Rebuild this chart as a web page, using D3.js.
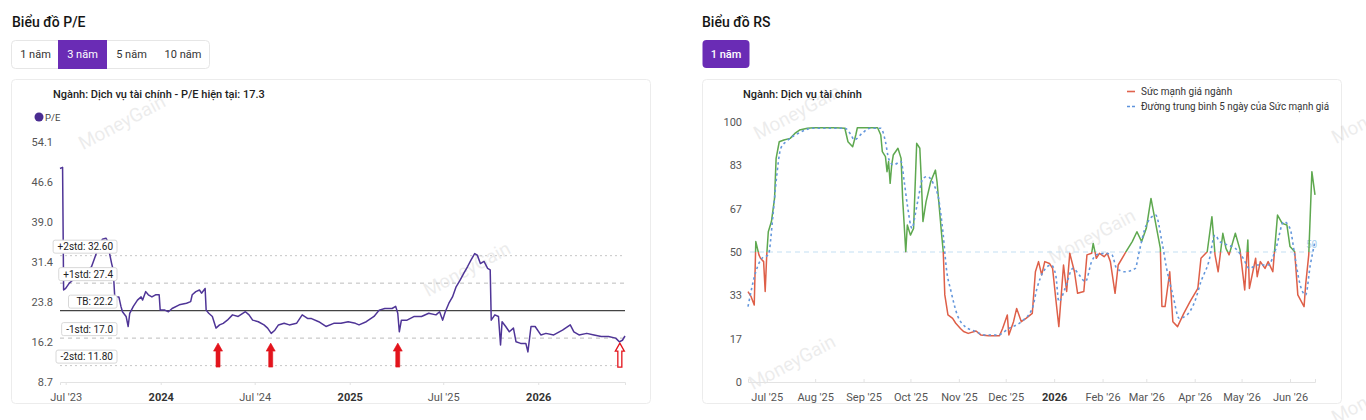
<!DOCTYPE html>
<html>
<head>
<meta charset="utf-8">
<script src="https://cdn.jsdelivr.net/npm/d3@7"></script>
<style>
  body { margin: 0; background: #fff; font-family: Roboto, "Noto Sans", sans-serif; }
  svg { display: block; }
</style>
</head>
<body>
<svg id="chart" width="1366" height="420"></svg>
<script>
// ---- P/E data (3 years) ----
var peDates = ["2023-06-20","2023-06-25","2023-06-27","2023-07-01","2023-07-08","2023-07-15","2023-07-22","2023-08-02","2023-08-13","2023-08-20",
  "2023-08-27","2023-09-03","2023-09-10","2023-09-17","2023-09-21","2023-09-24","2023-09-28","2023-10-01","2023-10-04","2023-10-12",
  "2023-10-16","2023-10-19","2023-10-26","2023-10-30","2023-11-02","2023-11-09","2023-11-17","2023-11-24","2023-11-27","2023-12-03",
  "2023-12-08","2023-12-15","2023-12-22","2023-12-29","2023-12-31","2024-01-09","2024-01-16","2024-01-23","2024-02-06","2024-02-20",
  "2024-02-28","2024-03-02","2024-03-09","2024-03-16","2024-03-20","2024-03-27","2024-03-29","2024-04-03","2024-04-10","2024-04-17",
  "2024-04-24","2024-05-01","2024-05-09","2024-05-19","2024-05-30","2024-06-13","2024-06-20","2024-06-27","2024-07-08","2024-07-19",
  "2024-07-26","2024-08-02","2024-08-09","2024-08-16","2024-08-27","2024-09-06","2024-09-20","2024-10-01","2024-10-12","2024-10-19",
  "2024-11-02","2024-11-16","2024-12-01","2024-12-15","2024-12-29","2025-01-12","2025-01-19","2025-02-02","2025-02-17","2025-02-27",
  "2025-03-10","2025-03-24","2025-03-31","2025-04-04","2025-04-07","2025-04-11","2025-04-22","2025-05-06","2025-05-20","2025-06-03",
  "2025-06-17","2025-06-24","2025-06-30","2025-07-05","2025-07-12","2025-07-19","2025-07-26","2025-08-03","2025-08-10","2025-08-17",
  "2025-08-24","2025-08-31","2025-09-05","2025-09-11","2025-09-18","2025-09-25","2025-09-30","2025-10-02","2025-10-09","2025-10-16",
  "2025-10-20","2025-10-23","2025-10-30","2025-11-06","2025-11-14","2025-11-19","2025-11-28","2025-12-08","2025-12-12","2025-12-18",
  "2025-12-26","2026-01-06","2026-01-16","2026-01-31","2026-02-17","2026-03-04","2026-03-11","2026-03-21","2026-04-05","2026-04-19",
  "2026-05-03","2026-05-17","2026-05-31","2026-06-07","2026-06-13","2026-06-18"];
var peValues = [49.1,49.3,26.1,26.4,27.4,28.0,28.3,29.3,29.9,30.5,
  32.4,34.3,35.7,35.9,35.2,33.0,31.1,29.9,24.8,24.8,
  23.0,22.0,21.1,19.2,21.7,23.0,24.2,24.8,24.2,25.8,
  25.2,24.8,25.2,25.2,22.3,22.3,22.0,22.6,23.3,23.6,
  23.9,25.2,25.8,26.1,25.5,26.4,22.3,21.7,21.1,18.9,
  19.5,19.8,20.4,21.4,21.1,22.0,21.4,20.4,20.1,19.5,
  18.9,17.9,18.5,19.5,19.8,19.5,19.8,21.4,20.7,20.7,
  20.1,19.2,19.8,19.8,20.1,19.8,19.5,20.1,21.1,22.3,
  22.6,22.6,23.0,21.7,18.2,20.4,20.4,21.1,21.1,21.7,
  21.4,22.0,20.4,22.0,23.6,24.8,26.7,28.0,29.3,30.5,
  31.8,33.0,32.7,31.1,31.5,30.2,29.9,20.4,21.4,21.1,
  15.7,20.1,19.2,18.2,18.9,16.3,16.0,16.0,14.4,19.2,
  19.2,17.6,17.9,17.6,18.5,19.5,18.2,17.6,17.9,17.6,
  17.3,17.3,17.0,16.3,16.6,17.4];
var peTicks = [8.7, 16.2, 23.8, 31.4, 39.0, 46.6, 54.1];
var peXTicks = ["2023-07-01","2024-01-01","2024-07-01","2025-01-01","2025-07-01","2026-01-01"];
var peXLabels = ["Jul '23","2024","Jul '24","2025","Jul '25","2026"];
var stdValues = [32.60, 27.4, 22.2, 17.0, 11.80];
var stdLabels = ["+2std: 32.60","+1std: 27.4","TB: 22.2","-1std: 17.0","-2std: 11.80"];
var stdKinds  = ["dot","dash","solid","dash","dot"];
var arrowDates = ["2024-04-21","2024-08-01","2025-04-04","2026-06-08"];
var arrowHollow = [false, false, false, true];

// ---- RS data (1 year) ----
var rsDates = ["2025-06-19","2025-06-21","2025-06-23","2025-06-24","2025-06-26","2025-06-27","2025-06-29","2025-06-30","2025-07-01","2025-07-02",
  "2025-07-04","2025-07-06","2025-07-07","2025-07-09","2025-07-12","2025-07-16","2025-07-19","2025-07-22","2025-07-27","2025-07-31",
  "2025-08-07","2025-08-14","2025-08-20","2025-08-22","2025-08-25","2025-08-27","2025-08-28","2025-09-03","2025-09-10","2025-09-12",
  "2025-09-13","2025-09-15","2025-09-16","2025-09-17","2025-09-18","2025-09-19","2025-09-20","2025-09-23","2025-09-25","2025-09-26",
  "2025-09-27","2025-09-28","2025-09-29","2025-10-01","2025-10-03","2025-10-05","2025-10-07","2025-10-08","2025-10-09","2025-10-11",
  "2025-10-14","2025-10-17","2025-10-18","2025-10-21","2025-10-22","2025-10-23","2025-10-25","2025-10-28","2025-10-30","2025-11-02",
  "2025-11-04","2025-11-07","2025-11-12","2025-11-15","2025-11-20","2025-11-27","2025-11-29","2025-12-02","2025-12-03","2025-12-06",
  "2025-12-08","2025-12-11","2025-12-14","2025-12-18","2025-12-20","2025-12-22","2025-12-24","2025-12-26","2025-12-29","2025-12-31",
  "2026-01-02","2026-01-04","2026-01-07","2026-01-09","2026-01-11","2026-01-14","2026-01-16","2026-01-20","2026-01-22","2026-01-25",
  "2026-01-26","2026-01-28","2026-01-30","2026-02-02","2026-02-04","2026-02-06","2026-02-09","2026-02-11","2026-02-16","2026-02-20",
  "2026-02-23","2026-02-26","2026-03-01","2026-03-04","2026-03-06","2026-03-10","2026-03-11","2026-03-13","2026-03-16","2026-03-18",
  "2026-03-21","2026-03-25","2026-03-29","2026-04-03","2026-04-05","2026-04-09","2026-04-12","2026-04-14","2026-04-16","2026-04-19",
  "2026-04-21","2026-04-23","2026-04-27","2026-04-30","2026-05-03","2026-05-05","2026-05-06","2026-05-10","2026-05-11","2026-05-13",
  "2026-05-16","2026-05-18","2026-05-21","2026-05-24","2026-05-27","2026-05-30","2026-06-01","2026-06-04","2026-06-06","2026-06-10",
  "2026-06-11","2026-06-13","2026-06-15","2026-06-17"];
var rsValues = [34.8,32.8,29.6,54.0,48.9,47.6,46.3,34.8,48.9,57.8,
  61.7,70.6,86.0,92.4,93.1,93.7,95.6,96.9,97.6,97.8,
  97.8,97.8,97.6,92.4,90.5,95.0,97.8,97.8,97.8,95.0,
  88.6,86.7,80.9,84.8,76.4,83.5,87.3,89.9,86.0,70.6,
  60.4,50.1,60.4,56.5,59.1,91.8,89.9,77.1,61.7,69.4,
  77.1,81.5,77.1,56.5,50.1,33.5,25.8,24.5,22.6,20.6,
  19.4,18.7,19.6,18.1,17.8,17.8,20.6,25.8,18.1,23.2,
  28.3,23.2,24.5,26.4,42.4,46.3,41.2,46.3,45.6,43.7,
  32.2,21.3,45.0,34.8,49.5,42.4,34.1,34.8,48.9,49.5,
  53.3,47.6,49.5,48.2,49.5,46.3,34.1,45.0,50.1,54.0,
  57.8,54.0,59.1,70.6,64.2,51.4,29.0,29.0,42.4,23.2,
  21.3,26.4,30.9,36.0,47.6,50.1,63.6,48.9,42.4,57.2,
  51.4,48.9,57.2,50.8,35.4,54.6,36.0,47.6,40.5,46.3,
  43.7,46.3,42.4,64.2,61.0,60.4,52.1,50.1,33.5,29.0,
  37.3,48.9,80.9,72.0];
var maDates = ["2025-06-19","2025-06-24","2025-06-28","2025-07-02","2025-07-05","2025-07-07","2025-07-10","2025-07-14","2025-07-21","2025-07-31",
  "2025-08-20","2025-08-24","2025-08-26","2025-08-31","2025-09-05","2025-09-12","2025-09-15","2025-09-17","2025-09-20","2025-09-25",
  "2025-09-27","2025-09-29","2025-10-02","2025-10-04","2025-10-06","2025-10-09","2025-10-12","2025-10-16","2025-10-19","2025-10-22",
  "2025-10-24","2025-10-27","2025-10-31","2025-11-05","2025-11-12","2025-11-17","2025-11-26","2025-12-03","2025-12-11","2025-12-18",
  "2025-12-21","2025-12-25","2025-12-30","2026-01-02","2026-01-04","2026-01-08","2026-01-13","2026-01-17","2026-01-21","2026-01-25",
  "2026-01-28","2026-02-03","2026-02-07","2026-02-10","2026-02-15","2026-02-22","2026-02-24","2026-03-01","2026-03-07","2026-03-11",
  "2026-03-14","2026-03-18","2026-03-22","2026-03-27","2026-04-01","2026-04-05","2026-04-10","2026-04-14","2026-04-17","2026-04-22",
  "2026-04-27","2026-05-02","2026-05-06","2026-05-11","2026-05-18","2026-05-23","2026-05-28","2026-06-01","2026-06-04","2026-06-07",
  "2026-06-11","2026-06-14","2026-06-17"];
var maValues = [29.0,42.4,47.6,48.9,64.2,77.1,89.9,92.7,95.6,97.6,
  97.6,95.0,93.1,95.6,97.6,97.6,92.4,86.0,83.5,84.8,
  77.1,68.1,59.1,64.2,70.6,78.3,79.0,75.8,70.6,56.5,
  43.7,34.8,25.8,21.3,19.4,18.1,18.1,20.6,23.2,28.3,
  36.0,42.4,45.0,41.2,30.9,36.0,43.7,41.2,38.6,46.3,
  48.9,49.5,48.9,43.7,42.4,43.7,48.9,60.4,64.2,54.0,
  43.7,33.5,24.5,25.8,30.9,38.6,46.3,56.5,54.0,52.7,
  51.4,47.6,43.7,45.0,45.0,51.4,61.7,59.1,48.9,38.6,
  33.5,45.0,54.0];
var rsTicks = [0, 16.7, 33.3, 50, 66.7, 83.3, 100];
var rsXTicks = ["2025-07-01","2025-08-01","2025-09-01","2025-10-01","2025-11-01","2025-12-01","2026-01-01",
  "2026-02-01","2026-03-01","2026-04-01","2026-05-01","2026-06-01"];
var rsXLabels = ["Jul '25","Aug '25","Sep '25","Oct '25","Nov '25","Dec '25","2026",
  "Feb '26","Mar '26","Apr '26","May '26","Jun '26"];

var parse = d3.timeParse('%Y-%m-%d');
var svg = d3.select('#chart');
var purple = '#6a2cb5';
var font = 'Roboto, sans-serif';

function watermark(x, y) {
  svg.append('text')
    .attr('transform', 'translate(' + x + ',' + y + ') rotate(-28)')
    .attr('text-anchor', 'middle')
    .style('font-size', '19px')
    .style('fill', '#000')
    .style('opacity', 0.07)
    .text('MoneyGain');
}

function card(x, w) {
  svg.append('rect')
    .attr('x', x + 0.5).attr('y', 79.5)
    .attr('width', w).attr('height', 324)
    .attr('rx', 4)
    .attr('fill', '#fff')
    .attr('stroke', '#ececec');
}

function title(x, txt) {
  svg.append('text').attr('x', x).attr('y', 27)
    .style('font-size', '14px').style('font-weight', 500).style('fill', '#151515')
    .text(txt);
}

function styleXAxis(g, boldFn) {
  g.select('.domain').attr('stroke', '#e3e3e3');
  g.selectAll('.tick line').attr('stroke', '#e3e3e3');
  g.selectAll('.tick text')
    .style('font-size', '11px')
    .style('font-family', font)
    .style('fill', function(d, i) { return boldFn(i) ? '#333' : '#555'; })
    .style('font-weight', function(d, i) { return boldFn(i) ? 700 : 400; });
}

// ===================== LEFT: P/E =====================
title(12, 'Biểu đồ P/E');

var tabs = ['1 năm', '3 năm', '5 năm', '10 năm'];
var tabX = [11, 58, 107, 156, 210];
svg.append('rect').attr('x', 11.5).attr('y', 40.5).attr('width', 198).attr('height', 28)
  .attr('rx', 4).attr('fill', '#fff').attr('stroke', '#e6e6e6');
svg.append('rect').attr('x', tabX[1]).attr('y', 40).attr('width', tabX[2] - tabX[1]).attr('height', 29)
  .attr('fill', purple);
tabs.forEach(function(t, i) {
  svg.append('text')
    .attr('x', (tabX[i] + tabX[i + 1]) / 2 + (i == 0 ? 1 : 0)).attr('y', 58)
    .attr('text-anchor', 'middle')
    .style('font-size', '11px')
    .style('fill', i == 1 ? '#fff' : '#333')
    .text(t);
});

card(11, 639);
watermark(125, 128);
watermark(470, 275);

svg.append('text').attr('x', 53).attr('y', 98)
  .style('font-size', '11px').style('font-weight', 500).style('fill', '#222')
  .text('Ngành: Dịch vụ tài chính - P/E hiện tại: 17.3');
svg.append('circle').attr('cx', 39).attr('cy', 117).attr('r', 4.5).attr('fill', '#4a2c91');
svg.append('text').attr('x', 45).attr('y', 120.5)
  .style('font-size', '9.5px').style('fill', '#444').text('P/E');

var pe = peDates.map(function(d, i) { return { date: parse(d), v: peValues[i] }; });
var px = d3.scaleTime().domain(d3.extent(pe, function(d) { return d.date; })).range([60, 625]);
var py = d3.scaleLinear().domain([8.7, 54.1]).range([382, 142]);

var pxAxis = svg.append('g').attr('transform', 'translate(0,382)')
  .call(d3.axisBottom(px)
    .tickValues(peXTicks.map(parse))
    .tickFormat(function(d, i) { return peXLabels[i]; })
    .tickSizeOuter(0).tickSize(3).tickPadding(8));
styleXAxis(pxAxis, function(i) { return i % 2 == 1; });

var pyAxis = svg.append('g').attr('transform', 'translate(60,0)')
  .call(d3.axisLeft(py).tickValues(peTicks).tickFormat(d3.format('.1f')).tickSize(0).tickPadding(7));
pyAxis.select('.domain').remove();
pyAxis.selectAll('text').style('font-size', '11px').style('fill', '#555').style('font-family', font);

// reference lines
stdValues.forEach(function(v, i) {
  var l = svg.append('line')
    .attr('x1', 60).attr('x2', 625)
    .attr('y1', py(v)).attr('y2', py(v));
  if (stdKinds[i] == 'solid') l.attr('stroke', '#444').attr('stroke-width', 1.2);
  else if (stdKinds[i] == 'dash') l.attr('stroke', '#bcbcbc').attr('stroke-dasharray', '4,4');
  else l.attr('stroke', '#c6c6c6').attr('stroke-dasharray', '2,3');
});

svg.append('path').datum(pe)
  .attr('fill', 'none')
  .attr('stroke', '#4f3597')
  .attr('stroke-width', 1.5)
  .attr('stroke-linejoin', 'round')
  .attr('d', d3.line().x(function(d) { return px(d.date); }).y(function(d) { return py(d.v); }));

// labels for reference lines
stdLabels.forEach(function(t, i) {
  var g = svg.append('g');
  var cy = py(stdValues[i]) - 9;
  var txt = g.append('text').attr('x', 113).attr('y', cy + 3.5)
    .attr('text-anchor', 'end')
    .style('font-size', '10px').style('fill', '#222').text(t);
  var w = txt.node().getComputedTextLength();
  if (w < 40) w = 40;
  g.insert('rect', 'text')
    .attr('x', 113 - w - 4.5).attr('y', cy - 6.5)
    .attr('width', w + 8.5).attr('height', 13)
    .attr('rx', 2)
    .attr('fill', '#fff').attr('stroke', '#d8d8d8');
});

// arrows at -1std touches
arrowDates.forEach(function(d, i) {
  var x = px(parse(d));
  var top = py(17.0) + 5, bot = py(11.8) + 1.5;
  var p = d3.path();
  p.moveTo(x, top);
  p.lineTo(x + 4.5, top + 8);
  p.lineTo(x + 2, top + 8);
  p.lineTo(x + 2, bot);
  p.lineTo(x - 2, bot);
  p.lineTo(x - 2, top + 8);
  p.lineTo(x - 4.5, top + 8);
  p.closePath();
  svg.append('path').attr('d', p.toString())
    .attr('fill', arrowHollow[i] ? '#fff' : '#e3141c')
    .attr('stroke', '#e3141c')
    .attr('stroke-width', arrowHollow[i] ? 1.3 : 0.6);
});

// ===================== RIGHT: RS =====================
title(702, 'Biểu đồ RS');
svg.append('rect').attr('x', 702.5).attr('y', 40).attr('width', 47).attr('height', 28)
  .attr('rx', 4).attr('fill', purple);
svg.append('text').attr('x', 726).attr('y', 58).attr('text-anchor', 'middle')
  .style('font-size', '11px').style('font-weight', 500).style('fill', '#fff').text('1 năm');

card(702, 639);
watermark(800, 118);
watermark(1095, 242);
watermark(795, 368);
watermark(1378, 122);
watermark(1378, 402);

svg.append('text').attr('x', 743).attr('y', 98)
  .style('font-size', '11px').style('font-weight', 500).style('fill', '#222')
  .text('Ngành: Dịch vụ tài chính');

// legend
svg.append('line').attr('x1', 1127).attr('x2', 1135).attr('y1', 91.5).attr('y2', 91.5)
  .attr('stroke', '#e0634d').attr('stroke-width', 1.6);
svg.append('text').attr('x', 1141).attr('y', 95)
  .style('font-size', '10px').style('fill', '#333').text('Sức mạnh giá ngành');
svg.append('line').attr('x1', 1127).attr('x2', 1136).attr('y1', 106.5).attr('y2', 106.5)
  .attr('stroke', '#5e93dc').attr('stroke-width', 1.6).attr('stroke-dasharray', '3,2');
svg.append('text').attr('x', 1141).attr('y', 110)
  .attr('textLength', 188).attr('lengthAdjust', 'spacingAndGlyphs')
  .style('font-size', '10px').style('fill', '#333').text('Đường trung bình 5 ngày của Sức mạnh giá');

var rs = rsDates.map(function(d, i) { return { date: parse(d), v: rsValues[i] }; });
var ma = maDates.map(function(d, i) { return { date: parse(d), v: maValues[i] }; });
var rx = d3.scaleTime().domain(d3.extent(rs, function(d) { return d.date; })).range([748, 1315]);
var ry = d3.scaleLinear().domain([0, 100]).range([382, 122]);

var rxAxis = svg.append('g').attr('transform', 'translate(0,382)')
  .call(d3.axisBottom(rx)
    .tickValues(rsXTicks.map(parse))
    .tickFormat(function(d, i) { return rsXLabels[i]; })
    .tickSizeOuter(0).tickSize(-3).tickPadding(11));
styleXAxis(rxAxis, function(i) { return rsXLabels[i] == '2026'; });

var ryAxis = svg.append('g').attr('transform', 'translate(748,0)')
  .call(d3.axisLeft(ry).tickValues(rsTicks).tickFormat(d3.format('.0f')).tickSize(0).tickPadding(6));
ryAxis.select('.domain').remove();
ryAxis.selectAll('text').style('font-size', '11px').style('fill', '#555').style('font-family', font);

// 50 line
svg.append('line').attr('x1', 750).attr('x2', 1316).attr('y1', ry(50)).attr('y2', ry(50))
  .attr('stroke', '#c3dff3').attr('stroke-width', 1.2).attr('stroke-dasharray', '5,4');
svg.append('text').attr('x', 1306).attr('y', ry(50) - 4)
  .style('font-size', '10px').style('fill', '#a9d0ef').text('50');

var defs = svg.append('defs');
defs.append('clipPath').attr('id', 'above').append('rect')
  .attr('x', 700).attr('y', 0).attr('width', 660).attr('height', ry(50));
defs.append('clipPath').attr('id', 'below').append('rect')
  .attr('x', 700).attr('y', ry(50)).attr('width', 660).attr('height', 420 - ry(50));

var rsLine = d3.line().x(function(d) { return rx(d.date); }).y(function(d) { return ry(d.v); });

svg.append('path').datum(rs).attr('clip-path', 'url(#above)')
  .attr('fill', 'none').attr('stroke', '#5ea84f').attr('stroke-width', 1.5)
  .attr('stroke-linejoin', 'round').attr('d', rsLine);
svg.append('path').datum(rs).attr('clip-path', 'url(#below)')
  .attr('fill', 'none').attr('stroke', '#de5f48').attr('stroke-width', 1.5)
  .attr('stroke-linejoin', 'round').attr('d', rsLine);

svg.append('path').datum(ma)
  .attr('fill', 'none').attr('stroke', '#6497dc').attr('stroke-width', 1.6)
  .attr('stroke-dasharray', '2.5,3')
  .attr('d', d3.line().curve(d3.curveMonotoneX)
    .x(function(d) { return rx(d.date); }).y(function(d) { return ry(d.v); }));
</script>
</body>
</html>
